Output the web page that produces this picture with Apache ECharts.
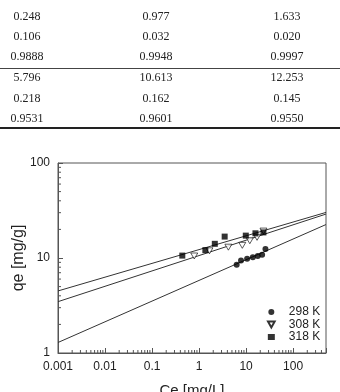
<!DOCTYPE html>
<html>
<head>
<meta charset="utf-8">
<script src="https://cdn.jsdelivr.net/npm/echarts@6/dist/echarts.min.js"></script>
<style>
html,body{margin:0;padding:0;background:#fff;}
#main{width:340px;height:392px;}
</style>
</head>
<body>
<div id="main"></div>
<script>
// table part (fit parameters)
var tableRows = [
	['0.248', '0.977', '1.633'],
	['0.106', '0.032', '0.020'],
	['0.9888', '0.9948', '0.9997'],
	['5.796', '10.613', '12.253'],
	['0.218', '0.162', '0.145'],
	['0.9531', '0.9601', '0.9550']
];
var tableRowY = [16.5, 37, 57, 78, 98.5, 118.5];
var tableColX = [27, 156, 287];

// isotherm points
var ce298 = [6.3, 7.8, 10.5, 13.9, 17.7, 21.9, 25.8];
var qe298 = [8.5, 9.4, 9.8, 10.2, 10.5, 10.8, 12.4];
var ce308 = [0.79, 1.66, 4.2, 8.3, 12.0, 17.1, 23.4];
var qe308 = [10.5, 11.9, 13.0, 13.6, 15.2, 16.5, 19.2];
var ce318 = [0.44, 1.36, 2.16, 3.5, 9.85, 15.8, 23.4];
var qe318 = [10.6, 12.1, 14.1, 16.8, 17.2, 18.2, 18.6];

// fitted lines, end points
var fit298 = [[0.001, 1.29], [500, 22.5]];
var fit308 = [[0.001, 3.47], [500, 29.0]];
var fit318 = [[0.001, 4.50], [500, 30.2]];

var seriesNames = ['298 K', '308 K', '318 K'];
var xTickLabels = ['0.001', '0.01', '0.1', '1', '10', '100'];
var yTickLabels = ['1', '10', '100'];

function pairs(xs, ys){
	var out = [];
	for (var i = 0; i < xs.length; i++) out.push([xs[i], ys[i]]);
	return out;
}
function pickLabel(v, list){
	for (var i = 0; i < list.length; i++){
		var l = parseFloat(list[i]);
		if (Math.abs(v - l) < l * 1e-6) return list[i];
	}
	return '';
}

// minor ticks 2..9 of every decade
var minorTicks = [];
for (var k = -3; k <= 2; k++){
	for (var m = 2; m <= 9; m++){
		var v = m * Math.pow(10, k);
		if (v < 500) minorTicks.push([v, 1, 0]);
	}
}
for (var k2 = 0; k2 <= 1; k2++){
	for (var m2 = 2; m2 <= 9; m2++){
		minorTicks.push([0.001, m2 * Math.pow(10, k2), 1]);
	}
}

var graphics = [];
for (var r = 0; r < tableRows.length; r++){
	for (var c = 0; c < 3; c++){
		graphics.push({
			type: 'text', x: tableColX[c], y: tableRowY[r], silent: true,
			style: {text: tableRows[r][c], textAlign: 'center', textVerticalAlign: 'middle',
				font: '12px "Liberation Serif"', fill: '#222'}
		});
	}
}
graphics.push({type: 'line', silent: true, shape: {x1: 0, y1: 68.5, x2: 340, y2: 68.5}, style: {stroke: '#444', lineWidth: 1}});
graphics.push({type: 'line', silent: true, shape: {x1: 0, y1: 128, x2: 340, y2: 128}, style: {stroke: '#222', lineWidth: 2}});

var lineStyle = {color: '#333', width: 1};
var triPath = 'path://M0,0L10,0L5,9Z';

var myChart = echarts.init(document.getElementById('main'));
var option = {
	animation: false,
	graphic: graphics,
	grid: {left: 58, right: 14, top: 163, bottom: 39, outerBoundsMode: 'none', containLabel: false,
		show: true, borderColor: '#555', borderWidth: 1},
	legend: {
		data: [
			{name: '298 K', icon: 'circle'},
			{name: '308 K', icon: triPath},
			{name: '318 K', icon: 'rect'}
		],
		orient: 'vertical',
		left: 267, top: 306, padding: 0,
		itemWidth: 7, itemHeight: 6, itemGap: 0.5,
		textStyle: {fontFamily: 'Liberation Sans', fontSize: 12, lineHeight: 12, color: '#222', padding: [0, 0, 0, 9]},
		selectedMode: false
	},
	xAxis: {
		type: 'log', logBase: 10, min: 0.001, max: 500,
		name: 'Ce [mg/L]', nameLocation: 'middle', nameGap: 30, nameMoveOverlap: false,
		nameTextStyle: {fontFamily: 'Liberation Sans', fontSize: 15, color: '#222'},
		axisLine: {lineStyle: {color: '#555'}},
		axisTick: {inside: true, length: 5, lineStyle: {color: '#555'}},
		axisLabel: {margin: 8, fontFamily: 'Liberation Sans', fontSize: 12, color: '#222',
			formatter: function(v){ return pickLabel(v, xTickLabels); }},
		splitLine: {show: false}
	},
	yAxis: {
		type: 'log', logBase: 10, min: 1, max: 100,
		name: 'qe [mg/g]', nameLocation: 'middle', nameGap: 31, nameMoveOverlap: false,
		nameTextStyle: {fontFamily: 'Liberation Sans', fontSize: 16, color: '#222'},
		axisLine: {lineStyle: {color: '#555'}},
		axisTick: {inside: true, length: 5, lineStyle: {color: '#555'}},
		axisLabel: {margin: 8, fontFamily: 'Liberation Sans', fontSize: 12, color: '#222',
			formatter: function(v){ return pickLabel(v, yTickLabels); }},
		splitLine: {show: false}
	},
	series: [
		{type: 'line', data: fit298, symbol: 'none', lineStyle: lineStyle, silent: true, z: 1},
		{type: 'line', data: fit308, symbol: 'none', lineStyle: lineStyle, silent: true, z: 1},
		{type: 'line', data: fit318, symbol: 'none', lineStyle: lineStyle, silent: true, z: 1},
		{name: '298 K', type: 'scatter', data: pairs(ce298, qe298), symbol: 'circle', symbolSize: 6,
			itemStyle: {color: '#000'}, z: 3},
		{name: '308 K', type: 'scatter', data: pairs(ce308, qe308), symbol: triPath, symbolSize: [7, 6],
			itemStyle: {color: '#fff', borderColor: '#000', borderWidth: 0.8}, z: 3},
		{name: '318 K', type: 'scatter', data: pairs(ce318, qe318), symbol: 'rect', symbolSize: 6,
			itemStyle: {color: '#000'}, z: 3},
		{
			type: 'custom', data: minorTicks, silent: true, z: 2,
			renderItem: function(params, api){
				var p = api.coord([api.value(0), api.value(1)]);
				var shape = api.value(2) === 1
					? {x1: p[0], y1: p[1], x2: p[0] + 3, y2: p[1]}
					: {x1: p[0], y1: p[1], x2: p[0], y2: p[1] - 3};
				return {type: 'line', shape: shape, style: {stroke: '#555', lineWidth: 1}};
			}
		}
	]
};
myChart.setOption(option);
</script>
</body>
</html>
